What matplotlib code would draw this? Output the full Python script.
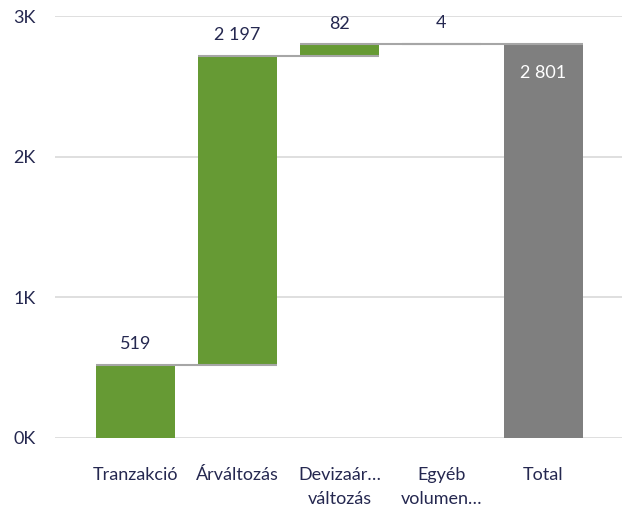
import matplotlib
matplotlib.use('Agg')
from matplotlib import pyplot as plt
import numpy as np

# adatok
kategoriak = ['Tranzakció', 'Árváltozás', 'Devizaár…\nváltozás', 'Egyéb\nvolumen…', 'Total']
valtozas = [519, 2197, 82, 4]
osszes = 2801
yticks = [0, 1000, 2000, 3000]
ytick_cimkek = ['0K', '1K', '2K', '3K']

zold = '#669A34'
szurke = '#7F7F7F'
szoveg = '#252850'

plt.rcParams['font.family'] = ['Lato', 'DejaVu Sans']

def fmt(v):
    return '{:,}'.format(v).replace(',', ' ')

fig = plt.figure(figsize=(6.22, 5.09), dpi=100)
ax = fig.add_axes([0.088, 0.1395, 0.912, 0.829])

x = np.arange(len(kategoriak))
w = 0.78
alja = np.concatenate([[0], np.cumsum(valtozas)[:-1]])
teteje = np.cumsum(valtozas)

ax.bar(x[:-1], valtozas, bottom=alja, width=w, color=zold, zorder=3)
ax.bar(x[-1], osszes, width=w, color=szurke, zorder=3)

# összekötő vonalak
for i in range(len(valtozas)):
    ax.plot([x[i] - w / 2, x[i + 1] + w / 2], [teteje[i], teteje[i]],
            color='#A6A6A6', lw=1.5, zorder=4, solid_capstyle='butt')

for i, v in enumerate(valtozas):
    ax.annotate(fmt(v), (x[i], teteje[i]), xytext=(0, 15), textcoords='offset points',
                ha='center', va='center', fontsize=13, color=szoveg)
ax.annotate(fmt(osszes), (x[-1], osszes), xytext=(0, -21), textcoords='offset points',
            ha='center', va='center', fontsize=13, color='white', zorder=5)

ax.set_xlim(-0.79, 4.77)
ax.set_ylim(0, 3000)
ax.set_yticks(yticks)
ax.set_yticklabels(ytick_cimkek)
ax.set_xticks(x)
ax.set_xticklabels(kategoriak, linespacing=1.6)
ax.tick_params(axis='y', length=0, pad=14, labelsize=13, labelcolor=szoveg)
ax.tick_params(axis='x', length=0, pad=21, labelsize=13, labelcolor=szoveg)
ax.grid(axis='y', color='#D9D9D9', lw=1.2, zorder=0)
for s in ax.spines.values():
    s.set_visible(False)

plt.savefig('out.png', dpi=100)
